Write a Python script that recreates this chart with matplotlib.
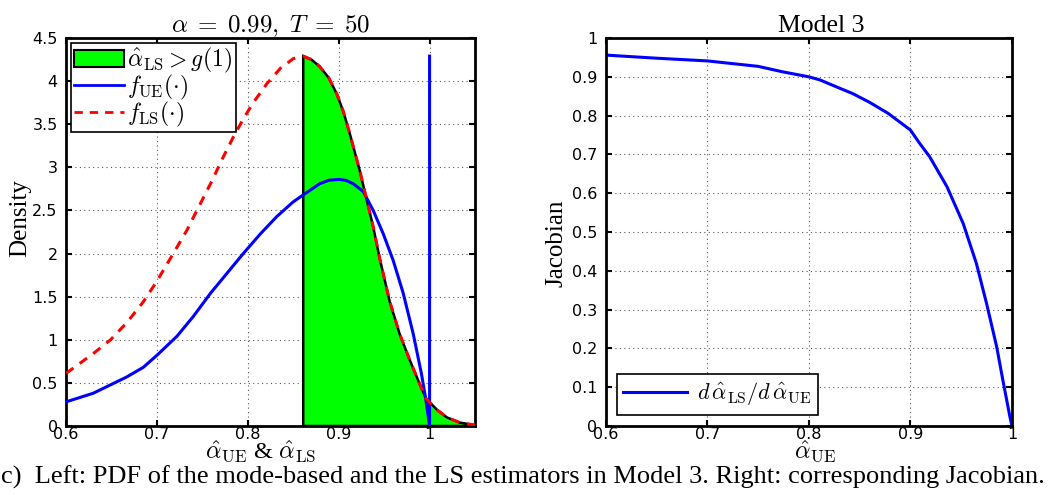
import numpy as np
import matplotlib
matplotlib.use('Agg')
import matplotlib.pyplot as plt
from matplotlib.patches import Patch
from matplotlib.lines import Line2D

plt.rcParams['font.family'] = ['Liberation Serif', 'DejaVu Serif']
plt.rcParams['mathtext.fontset'] = 'cm'

# densitet LS (rod streckad), avlast fran bilden
ls_x = [0.600, 0.630, 0.649, 0.667, 0.685, 0.700, 0.718, 0.733, 0.744, 0.759,
        0.773, 0.784, 0.795, 0.806, 0.821, 0.836, 0.850, 0.861, 0.870, 0.879,
        0.889, 0.898, 0.905, 0.912, 0.923, 0.930, 0.938, 0.945, 0.956, 0.967,
        0.978, 0.989, 0.996, 1.008, 1.019, 1.033, 1.050]
ls_y = [0.61, 0.84, 1.00, 1.20, 1.44, 1.68, 2.00, 2.27, 2.50, 2.81,
        3.12, 3.35, 3.56, 3.75, 3.97, 4.15, 4.26, 4.29, 4.25, 4.17,
        4.04, 3.85, 3.65, 3.40, 2.97, 2.66, 2.31, 1.95, 1.45, 1.07,
        0.77, 0.49, 0.32, 0.19, 0.10, 0.04, 0.01]
g1 = 0.861

# densitet UE (bla), med punktmassa vid 1
ue_x = [0.600, 0.630, 0.667, 0.685, 0.700, 0.722, 0.740, 0.759, 0.777, 0.795,
        0.814, 0.832, 0.850, 0.861, 0.879, 0.889, 0.900, 0.908, 0.916, 0.927,
        0.938, 0.949, 0.960, 0.971, 0.982, 0.991, 0.996, 1.000, 1.000]
ue_y = [0.28, 0.38, 0.57, 0.68, 0.82, 1.04, 1.27, 1.54, 1.77, 2.00,
        2.23, 2.43, 2.60, 2.68, 2.81, 2.85, 2.86, 2.85, 2.81, 2.72,
        2.50, 2.23, 1.92, 1.54, 1.07, 0.61, 0.30, 0.00, 4.29]

# Jacobian
jac_x = [0.600, 0.650, 0.700, 0.750, 0.774, 0.800, 0.811, 0.830, 0.843, 0.860,
         0.878, 0.900, 0.909, 0.919, 0.936, 0.952, 0.965, 0.975, 0.985, 0.991,
         0.998, 1.000]
jac_y = [0.956, 0.948, 0.941, 0.927, 0.913, 0.900, 0.892, 0.871, 0.857, 0.834,
         0.806, 0.763, 0.729, 0.694, 0.617, 0.522, 0.419, 0.316, 0.204, 0.119,
         0.024, 0.000]

left_yticks = [0, 0.5, 1, 1.5, 2, 2.5, 3, 3.5, 4, 4.5]
left_ylabels = ['0', '0.5', '1', '1.5', '2', '2.5', '3', '3.5', '4', '4.5']
right_yticks = [0, 0.1, 0.2, 0.3, 0.4, 0.5, 0.6, 0.7, 0.8, 0.9, 1]
right_ylabels = ['0', '0.1', '0.2', '0.3', '0.4', '0.5', '0.6', '0.7', '0.8', '0.9', '1']
xticks = [0.6, 0.7, 0.8, 0.9, 1.0]
xlabels = ['0.6', '0.7', '0.8', '0.9', '1']

caption = 'c)  Left: PDF of the mode-based and the LS estimators in Model 3. Right: corresponding Jacobian.'


def matlab_style(ax, yticks, ylabels):
    ax.set_xticks(xticks)
    ax.set_xticklabels(xlabels, family='DejaVu Sans', fontsize=11.5)
    ax.set_yticks(yticks)
    ax.set_yticklabels(ylabels, family='DejaVu Sans', fontsize=11.5)
    ax.tick_params(direction='in', top=True, right=True, length=4, width=1.5, pad=1)
    ax.tick_params(axis='y', pad=6)
    for s in ax.spines.values():
        s.set_linewidth(2)
    ax.grid(True, linestyle=(0, (1, 3)), color='0.35', linewidth=0.8)
    ax.set_axisbelow(True)


fig = plt.figure(figsize=(10.53, 4.95), dpi=100)
ax1 = fig.add_axes([0.0627, 0.1394, 0.3884, 0.7838])
ax2 = fig.add_axes([0.5752, 0.1394, 0.3858, 0.7838])

# vanster panel
ls_x_arr = np.array(ls_x)
ls_y_arr = np.array(ls_y)
m = ls_x_arr >= g1
fx = np.concatenate([[g1], ls_x_arr[m], [ls_x_arr[m][-1]]])
fy = np.concatenate([[0], ls_y_arr[m], [0]])
ax1.fill(fx, fy, facecolor='#00ff00', edgecolor='black', linewidth=1.8, zorder=2)
ax1.plot(ue_x, ue_y, color='#0000ff', linewidth=2.2, zorder=3)
ax1.plot(ls_x, ls_y, color='#ff0000', linestyle=(0, (3, 2.5)), linewidth=2.2, zorder=4)
ax1.set_xlim(0.6, 1.05)
ax1.set_ylim(0, 4.5)
matlab_style(ax1, left_yticks, left_ylabels)
ax1.set_title(r'$\alpha\;=\;0.99,\;T\;=\;50$', fontsize=18, pad=4)
ax1.set_ylabel('Density', fontsize=18)
ax1.yaxis.set_label_coords(-0.085, 0.535)
ax1.set_xlabel(r'$\hat{\alpha}_{\rm UE}$ & $\hat{\alpha}_{\rm LS}$', fontsize=17.5)
ax1.xaxis.set_label_coords(0.475, -0.034)
ax1.xaxis.label.set_va('top')

handles = [Patch(facecolor='#00ff00', edgecolor='black', linewidth=1.5),
           Line2D([], [], color='#0000ff', linewidth=2),
           Line2D([], [], color='#ff0000', linestyle=(0, (3, 2.5)), linewidth=2)]
labels = [r'$\hat{\alpha}_{\rm LS} > g(1)$', r'$f_{\rm UE}(\cdot)$', r'$f_{\rm LS}(\cdot)$']
leg = ax1.legend(handles, labels, loc='upper left', fontsize=17, fancybox=False,
                 framealpha=1, edgecolor='black', borderpad=0.15, labelspacing=-0.1,
                 handlelength=2.1, handleheight=0.75, handletextpad=0.15, borderaxespad=0.2)
leg.get_frame().set_linewidth(1.2)

# hoger panel
ax2.plot(jac_x, jac_y, color='#0000ff', linewidth=2.2)
ax2.set_xlim(0.6, 1.0)
ax2.set_ylim(0, 1)
matlab_style(ax2, right_yticks, right_ylabels)
ax2.set_title('Model 3', fontsize=18.5, pad=4, x=0.53)
ax2.set_ylabel('Jacobian', fontsize=18)
ax2.yaxis.set_label_coords(-0.093, 0.47)
ax2.set_xlabel(r'$\hat{\alpha}_{\rm UE}$', fontsize=17.5)
ax2.xaxis.set_label_coords(0.515, -0.034)
ax2.xaxis.label.set_va('top')
leg2 = ax2.legend([r'$d\,\hat{\alpha}_{\rm LS}/d\,\hat{\alpha}_{\rm UE}$'], loc='lower left',
                  fontsize=16, fancybox=False, framealpha=1, edgecolor='black',
                  borderpad=0.3, handlelength=2.85, handletextpad=0.45, borderaxespad=0.5)
leg2.get_frame().set_linewidth(1.2)

fig.text(0.001, 0.036, caption, fontsize=19, ha='left', va='center')

fig.savefig('out.png', dpi=100)
